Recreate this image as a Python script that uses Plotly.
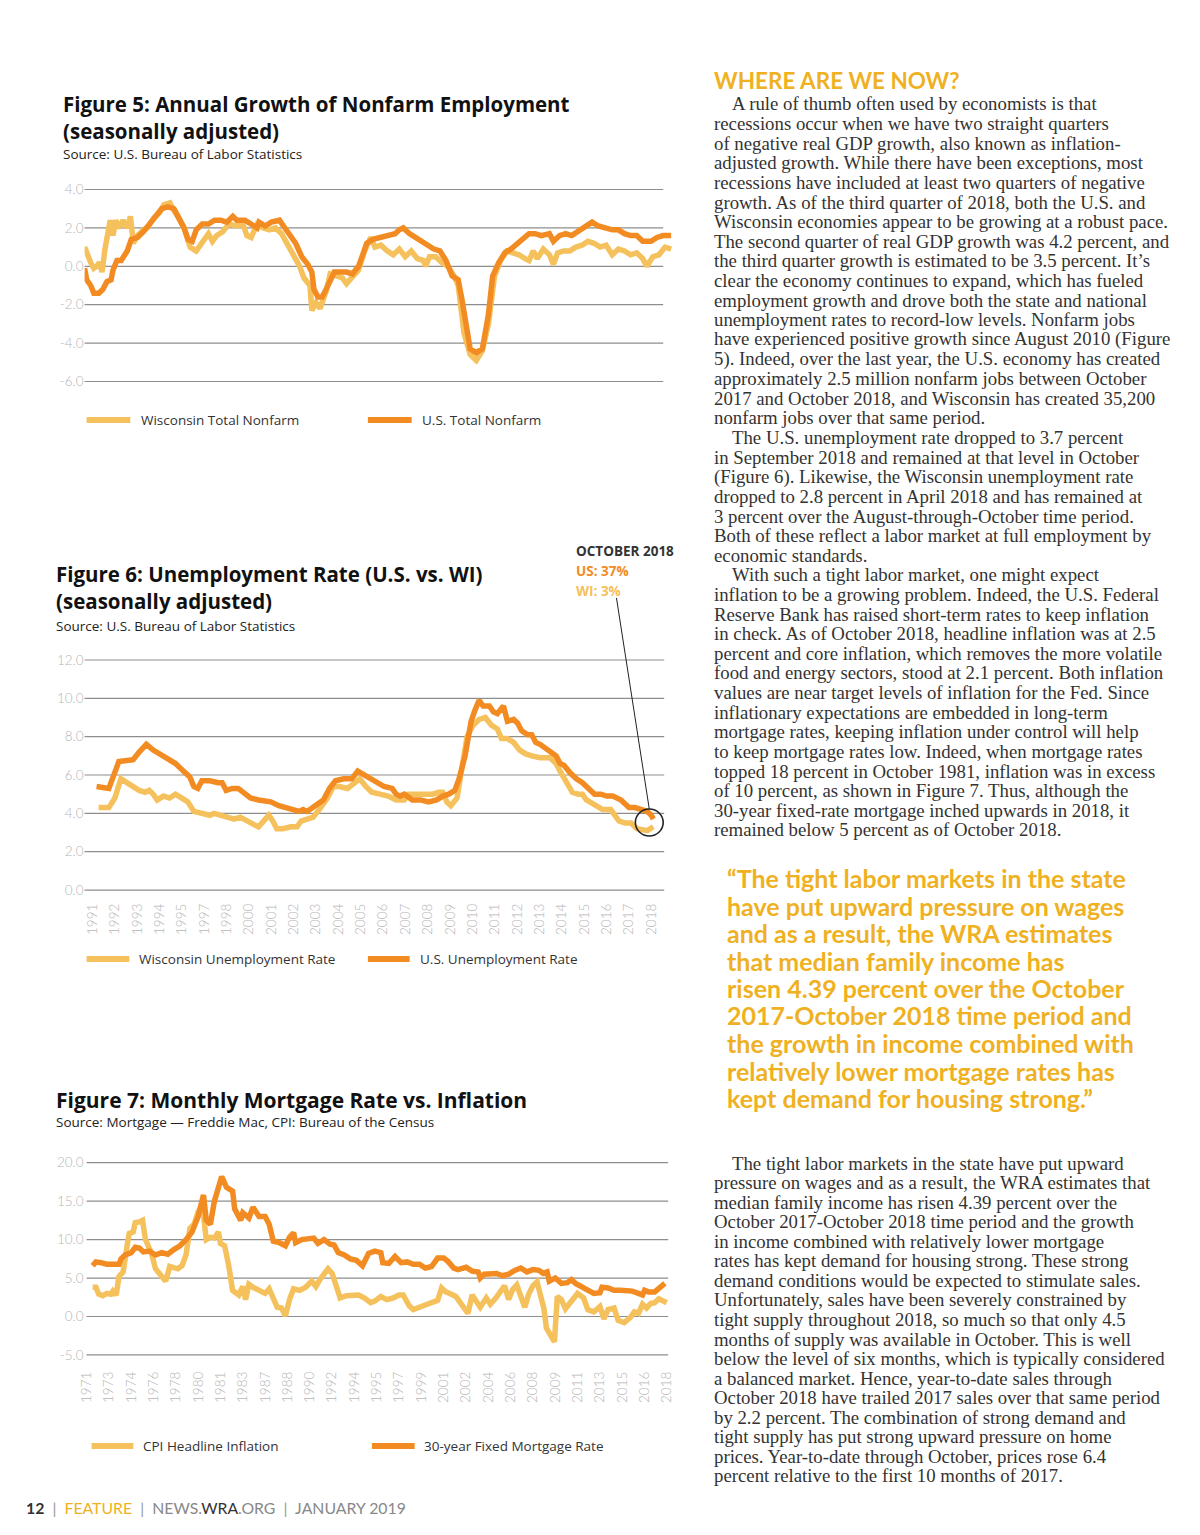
import numpy as np
import plotly.graph_objects as go

W, H = 1200, 1535
OX, OY = 8, 8   # browser body margin compensation
def px(x): return (x - OX) / W
def py(y): return 1 - (y - OY) / H

LIGHT = "#F5C15C"
DARK = "#F28C22"
GOLD = "#EFB122"
TEXT = "#333333"
TICK = "#B5B5B5"
GRID = "#8E8E8E"

# ---------------- Figure 5: annual growth of nonfarm employment (%) ----------------
f5_wi_t = [1991.00,1991.10,1991.29,1991.44,1991.58,1991.71,1991.83,1991.97,1992.06,1992.22,
           1992.35,1992.49,1992.64,1992.83,1993.03,1993.18,1993.32,1993.51,1993.80,1993.99,
           1994.28,1994.57,1994.77,1995.06,1995.25,1995.44,1995.73,1996.02,1996.31,1996.60,
           1996.89,1997.08,1997.28,1997.57,1997.86,1998.24,1998.53,1998.72,1998.92,1999.21,
           1999.50,1999.79,2000.08,2000.37,2000.66,2000.94,2001.23,2001.43,2001.72,2001.81,
           2002.01,2002.20,2002.49,2002.68,2002.97,2003.26,2003.46,2003.74,2004.03,2004.32,
           2004.61,2004.81,2005.10,2005.39,2005.68,2005.97,2006.25,2006.54,2006.83,2007.12,
           2007.22,2007.41,2007.70,2007.99,2008.28,2008.57,2008.77,2009.05,2009.34,2009.63,
           2009.92,2010.21,2010.50,2010.79,2011.08,2011.37,2011.66,2011.95,2012.14,2012.34,
           2012.53,2012.82,2013.11,2013.30,2013.50,2013.79,2014.08,2014.37,2014.66,2014.94,
           2015.23,2015.52,2015.81,2016.10,2016.39,2016.68,2016.97,2017.26,2017.55,2017.74,
           2018.03,2018.32,2018.61,2018.90]
f5_wi_v = [1.0,0.7,0.2,-0.1,0.0,0.2,-0.3,0.9,1.4,2.4,
           1.6,2.4,2.0,2.4,2.0,2.6,1.2,1.6,1.9,2.0,
           2.5,2.8,3.2,3.3,2.9,2.6,2.0,1.0,0.8,1.2,
           1.7,1.3,1.6,1.8,2.2,2.1,2.2,1.6,1.5,2.2,
           2.0,1.9,2.0,1.7,1.1,0.6,0.0,-0.6,-1.0,-2.3,
           -1.9,-2.2,-1.3,-0.4,-0.5,-0.6,-0.9,-0.6,-0.2,0.8,
           1.5,1.0,1.1,0.8,0.6,0.9,0.5,0.8,0.4,0.3,
           0.0,0.5,0.5,0.2,0.0,-0.5,-1.0,-3.5,-4.6,-4.9,
           -4.4,-3.0,-0.5,0.3,0.8,0.7,0.6,0.4,0.3,0.8,
           0.4,0.9,0.6,0.1,0.7,0.8,0.8,1.0,1.1,1.3,
           1.2,1.0,1.1,0.6,0.9,0.8,0.6,0.7,0.4,0.0,
           0.5,0.6,1.0,0.9]
f5_us_t = [1991.00,1991.10,1991.29,1991.44,1991.68,1991.87,1992.06,1992.26,1992.35,1992.54,
           1992.74,1993.03,1993.22,1993.51,1993.80,1994.09,1994.38,1994.67,1994.96,1995.25,
           1995.44,1995.73,1995.92,1996.12,1996.31,1996.60,1996.89,1997.18,1997.47,1997.76,
           1998.05,1998.24,1998.63,1998.92,1999.21,1999.30,1999.59,1999.88,2000.27,2000.46,
           2000.75,2001.04,2001.33,2001.62,2001.81,2001.91,2002.10,2002.30,2002.49,2002.68,
           2002.88,2003.17,2003.46,2003.74,2004.03,2004.23,2004.42,2004.71,2005.00,2005.29,
           2005.58,2005.77,2005.97,2006.16,2006.45,2006.74,2007.03,2007.32,2007.61,2007.90,
           2008.19,2008.48,2008.77,2008.96,2009.15,2009.34,2009.63,2009.92,2010.21,2010.41,
           2010.70,2010.99,2011.28,2011.57,2011.85,2012.14,2012.43,2012.72,2013.11,2013.30,
           2013.59,2013.88,2014.17,2014.46,2014.75,2015.14,2015.43,2015.81,2016.10,2016.39,
           2016.68,2016.97,2017.26,2017.55,2017.94,2018.23,2018.52,2018.90]
f5_us_v = [-0.1,-0.7,-1.0,-1.4,-1.4,-1.2,-0.8,-0.7,-0.2,0.3,
           0.3,0.8,1.4,1.5,1.8,2.2,2.6,3.0,3.1,3.0,
           2.6,2.0,1.4,1.3,1.9,2.2,2.2,2.4,2.4,2.3,
           2.6,2.4,2.4,2.2,2.0,2.3,2.1,2.3,2.4,2.1,
           1.6,1.2,0.5,0.1,-0.3,-1.2,-1.6,-1.6,-1.2,-0.7,
           -0.3,-0.3,-0.3,-0.4,0.0,0.6,1.2,1.4,1.5,1.6,
           1.7,1.7,1.9,2.0,1.7,1.5,1.3,1.1,0.9,0.8,
           0.3,-0.5,-0.7,-1.8,-3.2,-4.3,-4.5,-4.3,-2.5,-0.5,
           0.2,0.7,0.9,1.2,1.4,1.7,1.7,1.6,1.7,1.3,
           1.6,1.7,1.6,1.8,2.0,2.3,2.1,2.0,1.9,1.9,
           1.7,1.6,1.6,1.3,1.3,1.5,1.6,1.6]
f5_yticks = [4, 2, 0, -2, -4, -6]
f5_ylabels = ["4.0", "2.0", "0.0", "-2.0", "-4.0", "-6.0"]

# ---------------- Figure 6: unemployment rate (%) ----------------
f6_wi_t = [1991.30,1991.81,1992.11,1992.41,1992.71,1993.02,1993.32,1993.62,1993.82,1994.02,
           1994.22,1994.53,1994.83,1995.13,1995.43,1995.74,1996.04,1996.64,1996.84,1997.05,
           1997.45,1997.65,1998.05,1998.35,1998.66,1999.06,1999.26,1999.46,1999.77,1999.97,
           2000.17,2000.47,2000.87,2001.18,2001.38,2001.68,2001.98,2002.28,2002.69,2002.99,
           2003.29,2003.69,2004.00,2004.30,2004.60,2004.90,2005.31,2005.71,2006.11,2006.52,
           2006.72,2007.32,2007.93,2008.23,2008.43,2008.63,2008.83,2009.14,2009.44,2009.64,
           2009.94,2010.24,2010.55,2010.85,2011.15,2011.35,2011.65,2011.96,2012.26,2012.56,
           2012.86,2013.27,2013.77,2014.07,2014.27,2014.58,2014.88,2015.18,2015.38,2015.58,
           2015.88,2016.09,2016.39,2016.79,2016.99,2017.20,2017.50,2017.80,2018.10,2018.40,
           2018.61,2018.91]
f6_wi_v = [4.3,4.3,4.8,5.8,5.6,5.4,5.2,5.1,5.2,5.0,
           4.7,4.9,4.8,5.0,4.8,4.6,4.1,4.0,3.9,4.0,
           3.9,3.8,3.7,3.8,3.6,3.4,3.3,3.5,3.9,3.6,
           3.2,3.2,3.3,3.3,3.6,3.7,3.8,4.2,4.8,5.4,
           5.4,5.3,5.6,5.8,5.4,5.1,5.0,4.9,4.7,4.7,
           5.0,5.0,5.0,5.1,5.1,4.6,4.4,4.8,6.5,8.0,
           8.6,8.9,9.0,8.6,8.4,7.9,7.9,7.7,7.3,7.1,
           7.0,6.9,6.9,6.6,6.2,5.6,5.1,5.0,5.0,4.7,
           4.5,4.4,4.2,4.2,3.9,3.6,3.5,3.5,3.2,3.1,
           3.1,3.3]
f6_us_t = [1991.20,1991.81,1992.31,1993.02,1993.32,1993.68,1994.02,1994.53,1994.83,1995.13,
           1995.53,1995.84,1996.04,1996.24,1996.44,1996.84,1997.25,1997.45,1997.65,1997.95,
           1998.25,1998.66,1998.86,1999.26,1999.66,1999.87,2000.27,2000.67,2001.08,2001.28,
           2001.48,2001.68,2002.08,2002.49,2002.79,2003.09,2003.49,2003.90,2004.20,2004.50,
           2004.90,2005.21,2005.51,2005.91,2006.11,2006.31,2006.52,2006.92,2007.32,2007.72,
           2008.13,2008.43,2008.73,2009.03,2009.24,2009.54,2009.84,2010.04,2010.24,2010.44,
           2010.75,2010.95,2011.15,2011.45,2011.55,2011.65,2011.96,2012.16,2012.36,2012.66,
           2012.86,2013.06,2013.27,2013.57,2013.87,2014.07,2014.27,2014.47,2014.78,2015.08,
           2015.38,2015.58,2015.78,2015.99,2016.29,2016.59,2016.89,2017.09,2017.30,2017.50,
           2017.70,2018.00,2018.30,2018.61,2018.81,2018.91]
f6_us_v = [5.4,5.3,6.7,6.8,7.2,7.6,7.3,7.0,6.8,6.6,
           6.2,5.9,5.4,5.3,5.7,5.7,5.6,5.6,5.2,5.3,
           5.3,5.0,4.8,4.7,4.6,4.6,4.4,4.3,4.2,4.1,
           4.2,4.1,4.4,4.7,5.3,5.7,5.8,5.8,6.2,6.0,
           5.8,5.6,5.4,5.3,5.0,4.9,5.0,4.7,4.7,4.6,
           4.7,4.9,5.0,5.2,5.8,7.0,8.8,9.4,9.9,9.6,
           9.6,9.3,9.2,9.6,9.3,8.8,8.9,8.7,8.3,8.1,
           8.1,7.7,7.6,7.4,7.2,7.0,6.6,6.5,6.1,5.8,
           5.6,5.4,5.2,5.0,5.0,4.9,4.9,4.8,4.7,4.5,
           4.3,4.3,4.2,4.1,3.9,3.7]
f6_yticks = [12, 10, 8, 6, 4, 2, 0]
f6_ylabels = ["12.0", "10.0", "8.0", "6.0", "4.0", "2.0", "0.0"]
f6_xlabels = ["1991","1992","1993","1994","1995","1997","1998","2000","2001","2002",
              "2003","2004","2005","2006","2007","2008","2009","2010","2011","2012",
              "2013","2014","2015","2016","2017","2018"]

# ---------------- Figure 7: mortgage rate vs CPI inflation (%) ----------------
f7_cpi_t = [1971.50,1971.77,1972.00,1972.34,1972.67,1973.01,1973.17,1973.44,1973.67,1974.01,
            1974.34,1974.51,1974.84,1975.01,1975.35,1975.61,1975.85,1976.35,1976.68,1977.02,
            1977.35,1977.52,1977.85,1978.19,1978.52,1978.86,1979.19,1979.52,1979.86,1980.19,
            1980.53,1980.86,1981.20,1981.53,1981.86,1982.03,1982.37,1982.70,1983.03,1983.54,
            1983.87,1984.10,1984.37,1984.71,1985.21,1985.71,1986.04,1986.38,1986.71,1987.05,
            1987.38,1987.72,1988.05,1988.55,1989.05,1989.55,1989.89,1990.22,1990.56,1990.89,
            1991.23,1991.56,1991.89,1992.40,1992.90,1993.40,1993.90,1994.40,1994.74,1995.24,
            1995.74,1996.24,1996.74,1997.08,1997.58,1997.91,1998.41,1998.91,1999.42,1999.92,
            2000.25,2000.59,2000.92,2001.42,2001.92,2002.42,2002.76,2003.09,2003.43,2003.93,
            2004.26,2004.76,2005.10,2005.43,2005.77,2006.10,2006.44,2006.77,2007.10,2007.44,
            2007.77,2008.11,2008.44,2008.68,2008.88,2009.28,2009.54,2009.78,2010.11,2010.45,
            2010.95,2011.45,2011.95,2012.29,2012.79,2013.29,2013.62,2013.96,2014.46,2014.79,
            2015.29,2015.80,2016.13,2016.46,2016.80,2017.13,2017.47,2017.80,2018.14,2018.47,
            2018.80]
f7_cpi_v = [3.8,3.8,2.9,2.7,3.0,2.9,3.3,2.8,5.2,5.8,
            9.2,10.8,11.0,12.2,12.3,12.5,10.0,8.2,6.2,5.5,
            5.0,4.6,6.5,6.4,6.2,6.6,8.0,11.5,12.0,13.6,
            14.5,10.0,10.3,10.2,11.0,9.5,9.2,6.7,3.4,2.8,
            3.9,2.2,4.2,3.8,3.4,3.0,3.6,2.5,1.2,1.1,
            0.1,2.2,3.6,3.4,3.8,4.6,3.9,4.8,5.5,6.2,
            5.6,3.7,2.4,2.7,2.8,2.8,2.4,1.8,2.0,2.6,
            2.2,2.4,2.8,2.8,1.4,0.9,1.2,1.5,1.7,2.1,
            3.7,3.2,3.0,2.6,1.5,0.4,2.8,2.0,1.2,2.4,
            1.6,2.5,3.2,4.0,2.2,3.5,4.1,2.7,1.2,3.0,
            4.0,4.5,2.8,1.0,-1.5,-2.5,-3.3,2.6,2.2,1.0,
            2.1,3.0,2.4,0.9,0.6,1.3,-0.3,0.9,1.1,-0.5,
            -0.8,-0.1,0.6,0.4,1.6,1.1,1.7,1.8,2.3,2.0,
            1.8]
f7_mort_t = [1971.50,1971.77,1972.17,1972.67,1973.17,1973.67,1973.84,1974.18,1974.68,1975.01,
             1975.35,1975.68,1976.18,1976.68,1977.18,1977.69,1978.19,1978.69,1979.19,1979.69,
             1980.19,1980.63,1980.86,1981.20,1981.53,1981.86,1982.13,1982.53,1983.03,1983.20,
             1983.70,1983.87,1984.37,1984.71,1985.21,1985.71,1986.04,1986.38,1986.88,1987.38,
             1987.72,1988.05,1988.22,1988.72,1989.22,1989.72,1990.06,1990.56,1991.06,1991.39,
             1991.73,1992.23,1992.73,1993.23,1993.73,1994.23,1994.74,1995.24,1995.40,1995.90,
             1996.41,1996.91,1997.41,1997.91,1998.41,1998.91,1999.42,1999.92,2000.42,2000.75,
             2001.25,2001.59,2002.26,2002.76,2003.26,2003.43,2003.76,2004.26,2004.76,2005.27,
             2005.77,2006.27,2006.77,2007.27,2007.77,2008.27,2008.61,2008.94,2009.11,2009.61,
             2010.11,2010.61,2010.95,2011.28,2011.78,2012.29,2012.79,2013.29,2013.46,2013.96,
             2014.46,2014.96,2015.46,2015.96,2016.46,2016.80,2016.97,2017.30,2017.80,2018.14,
             2018.47,2018.64]
f7_mort_v = [6.6,7.1,7.0,6.8,6.8,6.8,7.5,8.0,8.3,9.0,
             8.9,8.4,8.5,8.0,8.3,8.1,8.7,9.2,10.0,11.0,
             13.0,15.8,12.5,12.0,15.0,16.8,18.2,16.8,16.3,14.0,
             12.5,13.5,12.8,14.2,13.0,13.0,12.0,9.8,9.6,9.2,
             10.3,10.9,9.6,10.0,10.1,10.2,9.5,10.0,9.4,9.3,
             8.3,8.0,7.5,7.3,6.6,8.2,8.5,8.3,7.0,6.9,
             7.8,7.0,7.1,6.8,6.8,6.3,6.5,7.6,7.6,7.2,
             6.3,6.1,6.4,5.9,5.8,5.0,5.5,5.5,5.6,5.3,
             5.5,6.0,6.3,5.8,6.1,6.0,5.6,5.8,4.6,5.0,
             4.3,4.4,4.8,4.3,3.8,3.5,3.0,3.1,3.8,3.7,
             3.4,3.4,3.4,3.3,3.0,2.8,3.4,3.2,3.2,3.6,
             4.2,4.3]
f7_yticks = [20, 15, 10, 5, 0, -5]
f7_ylabels = ["20.0", "15.0", "10.0", "5.0", "0.0", "-5.0"]
f7_xlabels = ["1971","1973","1974","1976","1978","1980","1981","1983","1987","1988",
              "1990","1992","1994","1995","1997","1999","2001","2002","2004","2006",
              "2008","2009","2011","2013","2015","2016","2018"]

# ---------------- text ----------------
block1 = [
    ["A rule of thumb often used by economists is that",
     "recessions occur when we have two straight quarters",
     "of negative real GDP growth, also known as inflation-",
     "adjusted growth. While there have been exceptions, most",
     "recessions have included at least two quarters of negative",
     "growth. As of the third quarter of 2018, both the U.S. and",
     "Wisconsin economies appear to be growing at a robust pace.",
     "The second quarter of real GDP growth was 4.2 percent, and",
     "the third quarter growth is estimated to be 3.5 percent. It\u2019s",
     "clear the economy continues to expand, which has fueled",
     "employment growth and drove both the state and national",
     "unemployment rates to record-low levels. Nonfarm jobs",
     "have experienced positive growth since August 2010 (Figure",
     "5). Indeed, over the last year, the U.S. economy has created",
     "approximately 2.5 million nonfarm jobs between October",
     "2017 and October 2018, and Wisconsin has created 35,200",
     "nonfarm jobs over that same period."],
    ["The U.S. unemployment rate dropped to 3.7 percent",
     "in September 2018 and remained at that level in October",
     "(Figure 6). Likewise, the Wisconsin unemployment rate",
     "dropped to 2.8 percent in April 2018 and has remained at",
     "3 percent over the August-through-October time period.",
     "Both of these reflect a labor market at full employment by",
     "economic standards."],
    ["With such a tight labor market, one might expect",
     "inflation to be a growing problem. Indeed, the U.S. Federal",
     "Reserve Bank has raised short-term rates to keep inflation",
     "in check. As of October 2018, headline inflation was at 2.5",
     "percent and core inflation, which removes the more volatile",
     "food and energy sectors, stood at 2.1 percent. Both inflation",
     "values are near target levels of inflation for the Fed. Since",
     "inflationary expectations are embedded in long-term",
     "mortgage rates, keeping inflation under control will help",
     "to keep mortgage rates low. Indeed, when mortgage rates",
     "topped 18 percent in October 1981, inflation was in excess",
     "of 10 percent, as shown in Figure 7. Thus, although the",
     "30-year fixed-rate mortgage inched upwards in 2018, it",
     "remained below 5 percent as of October 2018."],
]
quote_lines = [
    "\u201cThe tight labor markets in the state",
    "have put upward pressure on wages",
    "and as a result, the WRA estimates",
    "that median family income has",
    "risen 4.39 percent over the October",
    "2017-October 2018 time period and",
    "the growth in income combined with",
    "relatively lower mortgage rates has",
    "kept demand for housing strong.\u201d",
]
block2 = [
    ["The tight labor markets in the state have put upward",
     "pressure on wages and as a result, the WRA estimates that",
     "median family income has risen 4.39 percent over the",
     "October 2017-October 2018 time period and the growth",
     "in income combined with relatively lower mortgage",
     "rates has kept demand for housing strong. These strong",
     "demand conditions would be expected to stimulate sales.",
     "Unfortunately, sales have been severely constrained by",
     "tight supply throughout 2018, so much so that only 4.5",
     "months of supply was available in October. This is well",
     "below the level of six months, which is typically considered",
     "a balanced market. Hence, year-to-date sales through",
     "October 2018 have trailed 2017 sales over that same period",
     "by 2.2 percent. The combination of strong demand and",
     "tight supply has put strong upward pressure on home",
     "prices. Year-to-date through October, prices rose 6.4",
     "percent relative to the first 10 months of 2017."],
]

fig = go.Figure()

def add_line(t, v, color, xa, ya):
    fig.add_trace(go.Scatter(x=t, y=v, mode="lines", xaxis=xa, yaxis=ya,
                             line=dict(color=color, width=5.5, shape="linear"),
                             showlegend=False, hoverinfo="skip"))

add_line(f5_wi_t, f5_wi_v, LIGHT, "x", "y")
add_line(f5_us_t, f5_us_v, DARK, "x", "y")
add_line(f6_wi_t, f6_wi_v, LIGHT, "x2", "y2")
add_line(f6_us_t, f6_us_v, DARK, "x2", "y2")
add_line(f7_cpi_t, f7_cpi_v, LIGHT, "x3", "y3")
add_line(f7_mort_t, f7_mort_v, DARK, "x3", "y3")

# axis geometry (page pixels -> data units)
def xrange_for(p0, p1, ref_px, ref_t, ppu):
    return [ref_t + (p0 - ref_px) / ppu, ref_t + (p1 - ref_px) / ppu]

def yrange_for(top, bottom, ref_px, ref_v, ppu):
    return [ref_v - (bottom - ref_px) / ppu, ref_v + (ref_px - top) / ppu]

XL, XR = 78, 676
tickfont = dict(family="Lato", size=13.5, color=TICK, weight=300)

common_x = dict(showgrid=False, zeroline=False, showline=False, ticks="", fixedrange=True)
common_y = dict(showgrid=False, zeroline=False, showline=False, ticks="", fixedrange=True,
                tickfont=tickfont)

f5_top, f5_bot = 178, 396
f6_top, f6_bot = 648, 900
f7_top, f7_bot = 1152, 1368

layout = dict(
    width=W, height=H, margin=dict(l=0, r=0, t=0, b=0),
    paper_bgcolor="white", plot_bgcolor="rgba(0,0,0,0)",
    xaxis=dict(domain=[px(XL), px(XR)], range=xrange_for(XL, XR, 78, 1991.0, 21.147),
               showticklabels=False, anchor="y", **common_x),
    yaxis=dict(domain=[py(f5_bot), py(f5_top)], range=yrange_for(f5_top, f5_bot, 189.5, 4.0, 19.2),
               tickvals=f5_yticks, ticktext=f5_ylabels, anchor="x", **common_y),
    xaxis2=dict(domain=[px(XL), px(XR)], range=xrange_for(XL, XR, 86, 1991.0, 20.21),
                tickvals=list(np.linspace(1991.0, 2018.81, len(f6_xlabels))), ticktext=f6_xlabels,
                tickangle=-90, tickfont=tickfont, anchor="y2", **common_x),
    yaxis2=dict(domain=[py(f6_bot), py(f6_top)], range=yrange_for(f6_top, f6_bot, 660, 12.0, 19.17),
                tickvals=f6_yticks, ticktext=f6_ylabels, anchor="x2", **common_y),
    xaxis3=dict(domain=[px(XL), px(XR)], range=xrange_for(XL, XR, 80, 1971.0, 12.21),
                tickvals=list(np.linspace(1971.0, 2018.81, len(f7_xlabels))), ticktext=f7_xlabels,
                tickangle=-90, tickfont=tickfont, anchor="y3", **common_x),
    yaxis3=dict(domain=[py(f7_bot), py(f7_top)], range=yrange_for(f7_top, f7_bot, 1162.7, 20.0, 7.69),
                tickvals=f7_yticks, ticktext=f7_ylabels, anchor="x3", **common_y),
)
fig.update_layout(**layout)

shapes = []
def grid(vals, yref, x0, x1):
    for v in vals:
        shapes.append(dict(type="line", xref="paper", yref=yref, x0=px(x0), x1=px(x1),
                           y0=v, y1=v, line=dict(color=GRID, width=1.2), layer="below"))
grid(f5_yticks, "y", 78, 660)
grid(f6_yticks, "y2", 78, 661)
grid(f7_yticks, "y3", 80, 665)

def swatch(x0, x1, y, color):
    shapes.append(dict(type="line", xref="paper", yref="paper", x0=px(x0), x1=px(x1),
                       y0=py(y), y1=py(y), line=dict(color=color, width=6)))

annotations = []
def text(x, y, s, size, color=TEXT, family="Open Sans", anchor="left"):
    annotations.append(dict(xref="paper", yref="paper", x=px(x), y=py(y), text=s,
                            showarrow=False, xanchor=anchor, yanchor="middle",
                            font=dict(family=family, size=size, color=color),
                            align="left", borderpad=0, borderwidth=0))

# legends
swatch(80, 124, 420, LIGHT); text(135, 420, "Wisconsin Total Nonfarm", 13.5)
swatch(363, 407, 420, DARK); text(417, 420, "U.S. Total Nonfarm", 13.5)
swatch(80, 123, 959, LIGHT); text(133, 959, "Wisconsin Unemployment Rate", 13.5)
swatch(363, 405, 959, DARK); text(415, 959, "U.S. Unemployment Rate", 13.5)
swatch(85, 127, 1446, LIGHT); text(137, 1446, "CPI Headline Inflation", 13.5)
swatch(367, 410, 1446, DARK); text(419, 1446, "30-year Fixed Mortgage Rate", 13.5)

# chart titles (two-line titles as one text block)
text(56, 117.5, "<b>Figure 5: Annual Growth of Nonfarm Employment<br>(seasonally adjusted)</b>", 20.5, "#111")
text(56, 154, "Source: U.S. Bureau of Labor Statistics", 13.5, "#222")
text(49, 587.5, "<b>Figure 6: Unemployment Rate (U.S. vs. WI)<br>(seasonally adjusted)</b>", 20.5, "#111")
text(49, 626, "Source: U.S. Bureau of Labor Statistics", 13.5, "#222")
text(49, 1100, "<b>Figure 7: Monthly Mortgage Rate vs. Inflation</b>", 21, "#111")
text(49, 1122, "Source: Mortgage \u2014 Freddie Mac, CPI: Bureau of the Census", 13.5, "#222")

# October 2018 callout
text(572, 551, "<b>OCTOBER 2018</b>", 13.5, "#333")
text(572, 571, "<b>US: 37%</b>", 13.5, DARK)
text(572, 591, "<b>WI: 3%</b>", 13.5, LIGHT)
shapes.append(dict(type="line", xref="paper", yref="paper", x0=px(613), y0=py(598),
                   x1=px(646), y1=py(809), line=dict(color="#222", width=1)))
shapes.append(dict(type="circle", xref="paper", yref="paper", x0=px(632), x1=px(660),
                   y0=py(836), y1=py(809), line=dict(color="#222", width=1.6)))

# right column
text(711, 80, "<b>WHERE ARE WE NOW?</b>", 22.5, GOLD, family="Lato")

def body(paras, y0, step, x=711, indent=18, size=18.8):
    y = y0
    for para in paras:
        for i, line in enumerate(para):
            text(x + (indent if i == 0 else 0), y, line, size, "#333", family="Liberation Serif")
            y += step

body(block1, 104, 19.62)
for i, line in enumerate(quote_lines):
    text(724, 878 + i * 27.5, "<b>" + line + "</b>", 25, GOLD, family="Lato")
body(block2, 1163, 19.56)

# footer
footer = ("<b><span style='color:#333'>12</span></b>"
          "<span style='color:#999'>  |  </span>"
          "<span style='color:" + GOLD + "'>FEATURE</span>"
          "<span style='color:#999'>  |  </span>"
          "<span style='color:#888'>NEWS.</span><span style='color:#333'>WRA</span>"
          "<span style='color:#888'>.ORG</span>"
          "<span style='color:#999'>  |  </span>"
          "<span style='color:#888'>JANUARY 2019</span>")
text(19, 1507, footer, 15.8, "#888", family="Lato")

fig.update_layout(shapes=shapes, annotations=annotations)
fig.write_html("out.html")
